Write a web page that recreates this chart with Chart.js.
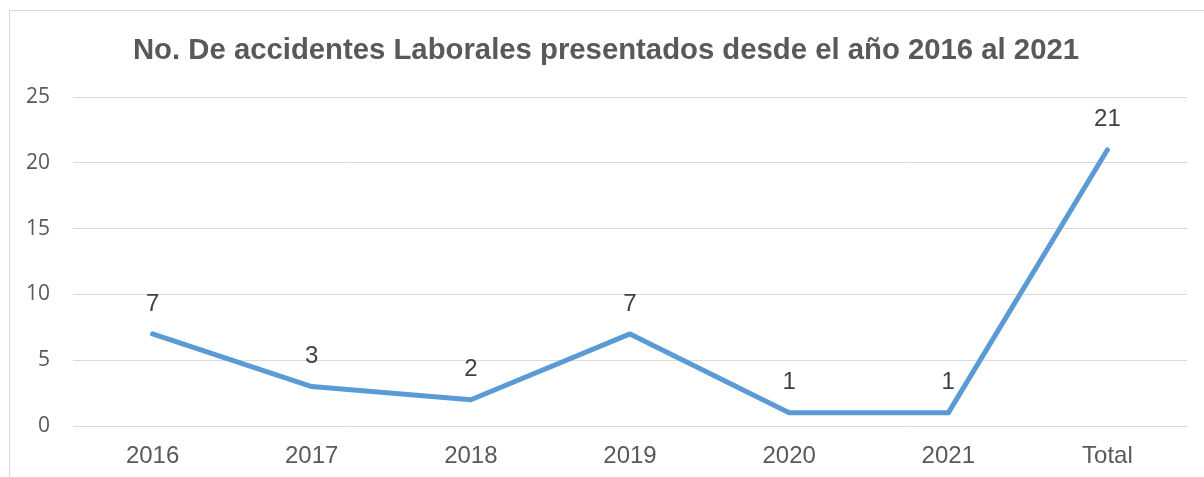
<!DOCTYPE html>
<html>
<head>
<meta charset="utf-8">
<script src="https://cdn.jsdelivr.net/npm/chart.js@4/dist/chart.umd.min.js"></script>
<style>
  html, body { margin: 0; padding: 0; background: #fff; overflow: hidden; }
  #marco { position: absolute; left: 9px; top: 10px; width: 1210px; height: 490px; border: 1px solid #d9d9d9; }
  #caja { position: absolute; left: 0; top: 0; width: 1204px; height: 477px; }
</style>
</head>
<body>
<div id="marco"></div>
<div id="caja"><canvas id="grafico"></canvas></div>
<script>
// Datos del grafico
const categorias = ["2016", "2017", "2018", "2019", "2020", "2021", "Total"];
const accidentes = [7, 3, 2, 7, 1, 1, 21];
const titulo = "No. De accidentes Laborales presentados desde el año 2016 al 2021";

const ctx = document.getElementById("grafico").getContext("2d");
const fuente = "'Liberation Sans', Arial, sans-serif";

// Etiquetas encima de cada punto
const etiquetasDatos = {
  id: "etiquetasDatos",
  afterDatasetsDraw(chart) {
    const c = chart.ctx;
    const meta = chart.getDatasetMeta(0);
    c.save();
    c.font = "24px " + fuente;
    c.fillStyle = "#404040";
    c.textAlign = "center";
    c.textBaseline = "middle";
    meta.data.forEach((p, i) => {
      c.fillText(String(accidentes[i]), p.x, p.y - 30);
    });
    c.restore();
  },
};

new Chart(ctx, {
  type: "line",
  data: {
    labels: categorias,
    datasets: [
      {
        label: "Accidentes",
        data: accidentes,
        borderColor: "#5b9bd5",
        borderWidth: 5,
        borderCapStyle: "round",
        borderJoinStyle: "round",
        pointRadius: 0,
        tension: 0,
        fill: false,
      },
    ],
  },
  options: {
    responsive: true,
    maintainAspectRatio: false,
    animation: false,
    layout: { padding: { left: 25, right: 17, top: 0, bottom: 0 } },
    plugins: {
      legend: { display: false },
      tooltip: { enabled: false },
      title: {
        display: true,
        text: titulo,
        color: "#595959",
        font: { family: fuente, size: 29.3, weight: "bold" },
        padding: { top: 33, bottom: 29 },
      },
    },
    scales: {
      x: {
        offset: true,
        grid: { display: false, drawTicks: false },
        border: { display: false },
        ticks: {
          color: "#595959",
          font: { family: fuente, size: 24 },
          padding: 16,
          maxRotation: 0,
        },
        afterFit(scale) { scale.height = 51; },
      },
      y: {
        min: 0,
        max: 25,
        ticks: {
          stepSize: 5,
          color: "#595959",
          font: { family: "'Open Sans', sans-serif", size: 21 },
          padding: 23,
        },
        grid: { color: "#d9d9d9", lineWidth: 1, drawTicks: false },
        border: { display: false },
        afterFit(scale) { scale.width = 48; },
      },
    },
  },
  plugins: [etiquetasDatos],
});
</script>
</body>
</html>
